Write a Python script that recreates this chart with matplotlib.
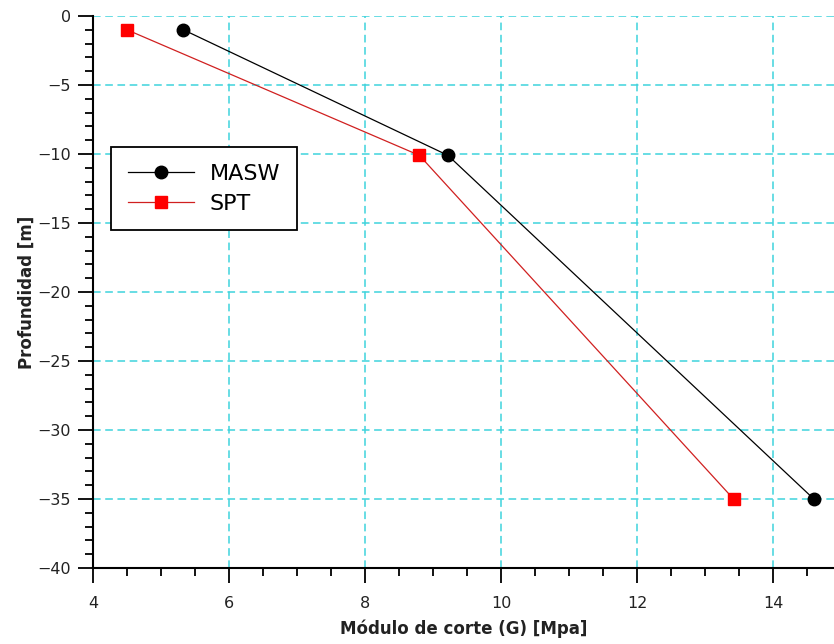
import matplotlib
matplotlib.use("Agg")
import matplotlib.pyplot as plt
from matplotlib.ticker import MultipleLocator

masw_g = [5.33, 9.22, 14.6]
masw_depth = [-1, -10.1, -35]
spt_g = [4.5, 8.8, 13.42]
spt_depth = [-1, -10.1, -35]

xticks = [4, 6, 8, 10, 12, 14]
yticks = [0, -5, -10, -15, -20, -25, -30, -35, -40]

fig = plt.figure(figsize=(8.34, 6.44), dpi=100)
ax = fig.add_axes([93/834, 76/644, 1 - 93/834, 552/644])

grid_c = '#3fd3dc'
for x in xticks:
    ax.axvline(x, color=grid_c, ls=(0, (5, 3)), lw=1.1, zorder=0)
for y in yticks:
    ax.axhline(y, color=grid_c, ls=(0, (5, 3)), lw=1.1, zorder=0)

ax.plot(masw_g, masw_depth, color='black', lw=0.9, marker='o', ms=9,
        mfc='black', mec='black', label='MASW', zorder=3)
ax.plot(spt_g, spt_depth, color='#d02020', lw=0.9, marker='s', ms=9,
        mfc='#ff0000', mec='#ff0000', label='SPT', zorder=3)

ax.set_xlim(4, 4 + (834 - 93) / 68)
ax.set_ylim(-40, 0)
ax.set_xticks(xticks)
ax.set_yticks(yticks)
ax.xaxis.set_minor_locator(MultipleLocator(0.5))
ax.yaxis.set_minor_locator(MultipleLocator(1))
ax.tick_params(axis='both', which='major', length=11, width=1.3, direction='out',
               labelsize=11.5, colors='black', labelcolor='#222222')
ax.tick_params(axis='both', which='minor', length=5.8, width=1.3, direction='out')
ax.tick_params(axis='x', which='major', pad=9)
ax.tick_params(axis='y', which='major', pad=5)

for s in ['top', 'right']:
    ax.spines[s].set_visible(False)
for s in ['left', 'bottom']:
    ax.spines[s].set_linewidth(1.5)

ax.set_xlabel('Módulo de corte (G) [Mpa]', fontsize=12, fontweight='bold', labelpad=6,
              color='#222222')
ax.set_ylabel('Profundidad [m]', fontsize=12, fontweight='bold', labelpad=1,
              color='#222222')

leg = ax.legend(loc='upper left', bbox_to_anchor=((111 - 93) / 741, (568 - 147) / 552),
                borderaxespad=0, fontsize=16, frameon=True, fancybox=False,
                handlelength=3.0, handletextpad=0.7, borderpad=0.75, labelspacing=0.45)
leg.get_frame().set_edgecolor('black')
leg.get_frame().set_linewidth(1.3)
leg.get_frame().set_alpha(1)

fig.savefig('out.png', dpi=100)
